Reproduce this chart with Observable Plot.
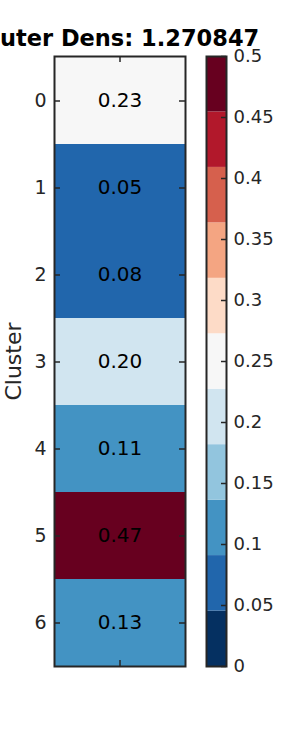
<!DOCTYPE html>
<html><head><meta charset="utf-8">
<script src="https://cdn.jsdelivr.net/npm/d3@7"></script>
<script src="https://cdn.jsdelivr.net/npm/@observablehq/plot@0.6"></script>
<style>
html,body{margin:0;padding:0;background:#fff;}
#wrap{position:relative;width:300px;height:750px;overflow:hidden;background:#fff;}
#wrap svg{position:absolute;left:0;top:0;}
</style></head><body><div id="wrap"></div>
<script>
// ---- data ----
const titleText = "Outer Dens: 1.270847";
const yLabel = "Cluster";
const clusters = [0, 1, 2, 3, 4, 5, 6];
const columns = ["density"];
const densities = [0.23, 0.05, 0.08, 0.20, 0.11, 0.47, 0.13];
const colorTicks = [0, 0.05, 0.1, 0.15, 0.2, 0.25, 0.3, 0.35, 0.4, 0.45, 0.5];
const colorMin = 0, colorMax = 0.5;
const palette = ["#053061","#2166ac","#4393c3","#92c5de","#d1e5f0","#f7f7f7","#fddbc7","#f4a582","#d6604d","#b2182b","#67001f"];

// ---- derived ----
const W = 300, H = 750;
const ink = "#262626";
const M = {top: 56, bottom: 84, left: 54, right: 115};
const fw = W - M.left - M.right;
const fh = H - M.top - M.bottom;
const thresholds = d3.range(1, palette.length).map(i => colorMin + (colorMax - colorMin) * i / palette.length);
const colorOpts = {type: "threshold", domain: thresholds, range: palette};
const rows = clusters.map((c, i) => ({cluster: c, col: columns[0], value: densities[i]}));
const font = {fontFamily: "DejaVu Sans", background: "transparent", overflow: "visible", color: ink};

const main = Plot.plot({
  width: W, height: H,
  marginTop: M.top, marginBottom: M.bottom, marginLeft: M.left, marginRight: M.right,
  style: font,
  x: {type: "band", domain: columns, padding: 0, axis: null},
  y: {type: "band", domain: clusters, padding: 0, axis: null, label: null},
  color: colorOpts,
  marks: [
    Plot.cell(rows, {x: "col", y: "cluster", fill: "value"}),
    Plot.text(rows, {x: "col", y: "cluster", text: d => d.value.toFixed(2), fontSize: 20, fill: "#000"}),
    Plot.tickY(rows, {y: "cluster", stroke: ink, strokeWidth: 1.5, insetRight: fw - 6}),
    Plot.tickY(rows, {y: "cluster", stroke: ink, strokeWidth: 1.5, insetLeft: fw - 6}),
    Plot.tickX(columns, {x: d => d, stroke: ink, strokeWidth: 1.5, insetBottom: fh - 6}),
    Plot.tickX(columns, {x: d => d, stroke: ink, strokeWidth: 1.5, insetTop: fh - 6}),
    Plot.frame({stroke: ink, strokeWidth: 2}),
    Plot.axisY({anchor: "left", label: null, tickSize: 0, tickPadding: 8, fontSize: 19}),
    Plot.text([titleText], {text: d => d, frameAnchor: "top", textAnchor: "middle", dy: -26, fontSize: 22.5, fontWeight: "bold", fill: "#000"}),
    Plot.text([yLabel], {text: d => d, frameAnchor: "left", textAnchor: "middle", rotate: -90, dx: -41, fontSize: 22, fill: ink})
  ]
});

const CB = {top: 56, bottom: 84, left: 206, right: 74};
const cbW = W - CB.left - CB.right;
const bins = palette.map((c, i) => ({
  lo: i === 0 ? colorMin : thresholds[i - 1],
  hi: i === palette.length - 1 ? colorMax : thresholds[i]
}));

const bar = Plot.plot({
  width: W, height: H,
  marginTop: CB.top, marginBottom: CB.bottom, marginLeft: CB.left, marginRight: CB.right,
  style: font,
  y: {domain: [colorMin, colorMax], axis: null, label: null},
  color: colorOpts,
  marks: [
    Plot.rect(bins, {y1: "lo", y2: "hi", fill: d => (d.lo + d.hi) / 2}),
    Plot.tickY(colorTicks, {y: d => d, stroke: ink, strokeWidth: 1.5, insetLeft: cbW - 5}),
    Plot.frame({stroke: ink, strokeWidth: 2}),
    Plot.axisY(colorTicks, {anchor: "right", label: null, tickSize: 0, tickPadding: 7, fontSize: 18, tickFormat: d => String(d)})
  ]
});

const wrap = document.getElementById("wrap");
wrap.appendChild(main);
wrap.appendChild(bar);
</script>
</body></html>
